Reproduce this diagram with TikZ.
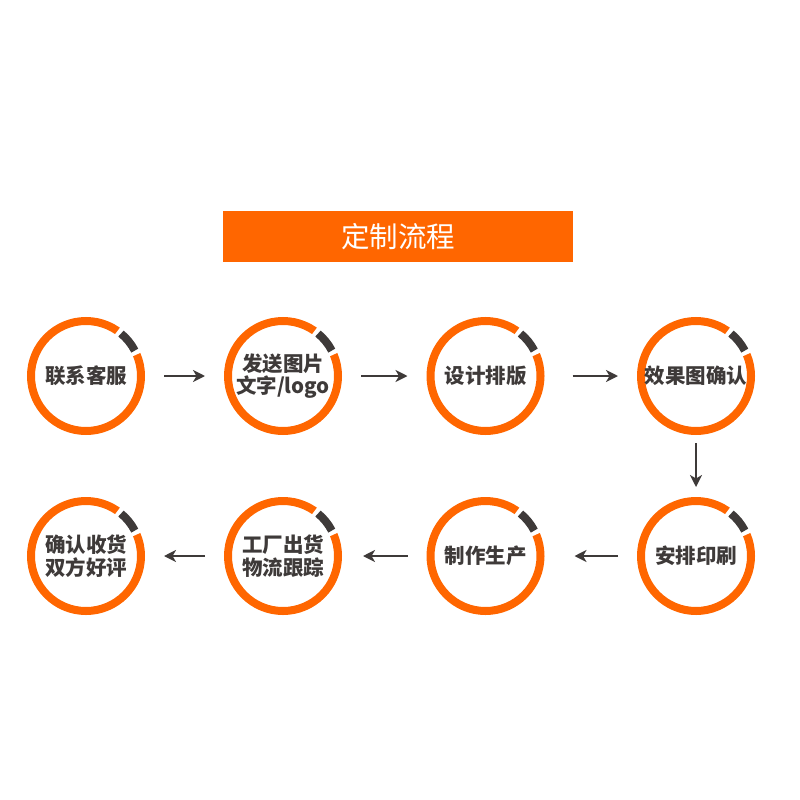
\documentclass[tikz,border=0pt]{standalone}
\usepackage{fontspec}
\setmainfont{Noto Sans CJK SC}
\usetikzlibrary{arrows.meta}

\begin{document}
\begin{tikzpicture}[x=1pt, y=-1pt, >={Stealth[length=12pt, width=12pt, inset=3.5pt]}]

\definecolor{ringcolor}{RGB}{255, 102, 0}
\definecolor{markcolor}{RGB}{62, 58, 57}

\tikzset{
  stage/.style={circle, draw=ringcolor, line width=8pt, minimum size=110pt, inner sep=0pt,
    align=center, text=markcolor, font=\fontsize{20.5}{22.5}\selectfont\bfseries},
  flow/.style={->, markcolor, line width=2.6pt, shorten <=19pt, shorten >=19pt}
}

\useasboundingbox (0,0) rectangle (800,800);

\node[fill=ringcolor, minimum width=350pt, minimum height=51pt, inner sep=0pt, text=white,
  font=\fontsize{28.5}{30}\selectfont] (title) at (398,236.5) {定制流程};

\node[stage] (s1) at (86,376) {联系客服};
\node[stage] (s2) at (283,376) {发送图片\\文字/logo};
\node[stage] (s3) at (485.5,376) {设计排版};
\node[stage] (s4) at (696,376) {效果图确认};
\node[stage] (s5) at (86,556) {确认收货\\双方好评};
\node[stage] (s6) at (283,556) {工厂出货\\物流跟踪};
\node[stage] (s7) at (485.5,556) {制作生产};
\node[stage] (s8) at (696,556) {安排印刷};

\foreach \n in {s1,s2,s3,s4,s5,s6,s7,s8} {
  \draw[white, line width=10pt] ([shift={(-23:55)}]\n.center) arc[start angle=-23, end angle=-55, radius=55];
  \draw[markcolor, line width=8pt] ([shift={(-27.5:55)}]\n.center) arc[start angle=-27.5, end angle=-50.5, radius=55];
}

\draw[flow] (s1) -- (s2);
\draw[flow] (s2) -- (s3);
\draw[flow, shorten <=28pt] (s3) -- (s4);
\draw[flow, shorten <=8pt, shorten >=10pt] (s4) -- (s8);
\draw[flow, shorten >=30pt] (s8) -- (s7);
\draw[flow, shorten >=21pt] (s7) -- (s6);
\draw[flow] (s6) -- (s5);

\end{tikzpicture}
\end{document}
